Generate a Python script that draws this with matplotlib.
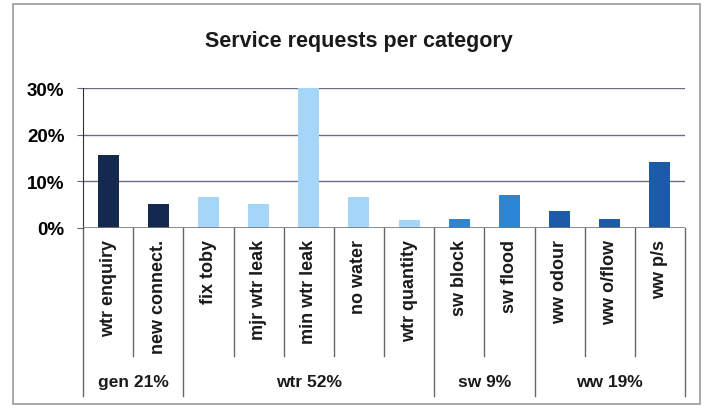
import numpy as np
import matplotlib
matplotlib.use('Agg')
import matplotlib.pyplot as plt
import matplotlib.transforms as mtransforms
from matplotlib.patches import Rectangle

plt.rcParams['font.family'] = ['Liberation Sans', 'DejaVu Sans']

# data
labels = ['wtr enquiry', 'new connect.', 'fix toby', 'mjr wtr leak', 'min wtr leak',
          'no water', 'wtr quantity', 'sw block', 'sw flood', 'ww odour', 'ww o/flow', 'ww p/s']
values = [15.6, 5.2, 6.7, 5.1, 30.0, 6.6, 1.8, 1.9, 7.1, 3.7, 2.0, 14.2]
groups = ['gen 21%', 'wtr 52%', 'sw 9%', 'ww 19%']
group_sizes = [2, 5, 2, 3]
group_colors = ['#14294d', '#a6d6f7', '#2a85d4', '#1c5ba8']

colors = []
for c, n in zip(group_colors, group_sizes):
    colors += [c] * n

fig = plt.figure(figsize=(7.06, 4.10), dpi=100)
fig.patches.append(Rectangle((13 / 706, 5 / 410), 687 / 706, 400 / 410, transform=fig.transFigure,
                             fill=False, edgecolor='#9a9a9a', lw=1.2))

ax = fig.add_axes([83 / 706, 181 / 410, 602 / 706, 140 / 410])
x = np.arange(len(labels))
ax.bar(x, [v / 100 for v in values], width=0.42, color=colors, zorder=3)

ax.set_xlim(-0.5, len(labels) - 0.5)
ax.set_ylim(0, 0.30)
ax.set_yticks([0, 0.1, 0.2, 0.3])
ax.set_yticklabels(['0%', '10%', '20%', '30%'], fontsize=13.5, fontweight='bold')
ax.tick_params(axis='y', length=4.3, color='#666677', pad=9)
ax.set_xticks([])
for y in [0.1, 0.2, 0.3]:
    ax.axhline(y, color='#6b6b88', lw=1, zorder=1)
for s in ['top', 'right', 'bottom']:
    ax.spines[s].set_visible(False)
ax.spines['left'].set_color('#333333')
ax.axhline(0, color='#777777', lw=1.2, zorder=4)

trans = mtransforms.blended_transform_factory(ax.transData, ax.transAxes)

# category labels
for i, lab in enumerate(labels):
    ax.text(i, -0.08, lab, transform=trans, rotation=90, ha='center', va='top',
            fontsize=13, fontweight='bold', color='#1a1a1a')

# separators
edges = np.cumsum([0] + group_sizes) - 0.5
for b in np.arange(-0.5, len(labels), 1.0):
    bottom = -1.2 if b in edges else -0.915
    ax.plot([b, b], [0, bottom], transform=trans, color='#666666', lw=1, clip_on=False)

# group labels
start = 0
for g, n in zip(groups, group_sizes):
    ax.text(start + (n - 1) / 2, -1.1, g, transform=trans, ha='center', va='center',
            fontsize=12.5, fontweight='bold', color='#1a1a1a')
    start += n

fig.text(359 / 706, 1 - 42 / 410, 'Service requests per category', ha='center', va='center',
         fontsize=15.5, fontweight='bold', color='#1a1a1a')

fig.savefig('out.png', dpi=100)
